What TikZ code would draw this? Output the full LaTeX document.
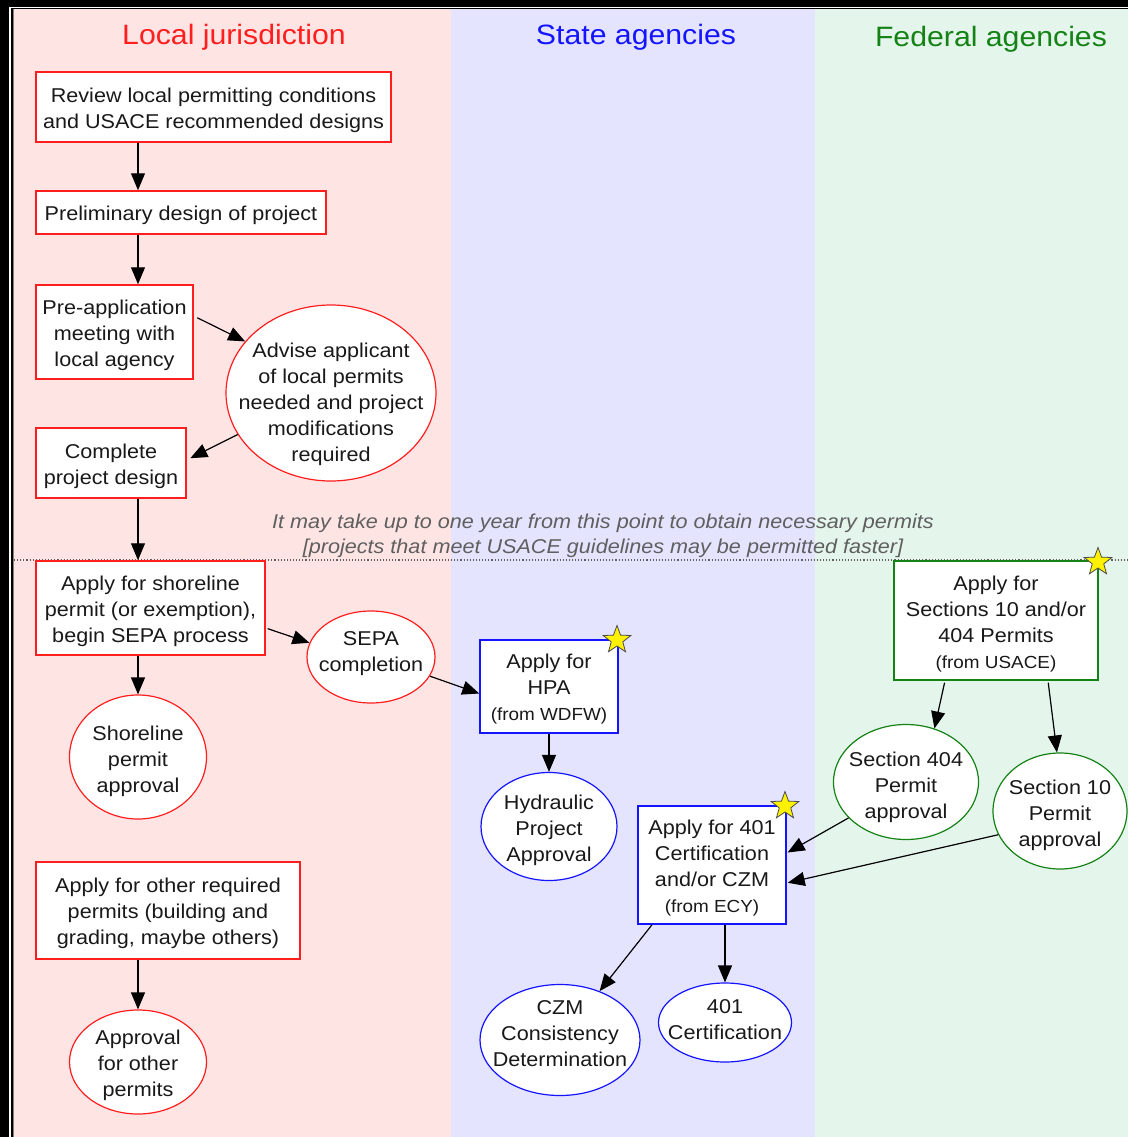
\documentclass[tikz,border=0pt]{standalone}
\usepackage{fontspec}
\setmainfont[FakeStretch=1.08]{Liberation Sans}
\usetikzlibrary{arrows.meta,shapes.geometric,calc}
\definecolor{pinkbg}{RGB}{255,228,228}
\definecolor{bluebg}{RGB}{228,228,255}
\definecolor{greenbg}{RGB}{228,245,236}
\definecolor{locred}{RGB}{255,30,30}
\definecolor{stblue}{RGB}{20,20,255}
\definecolor{fedgreen}{RGB}{20,130,20}
\definecolor{notegray}{RGB}{95,95,95}
\definecolor{txt}{RGB}{25,25,25}
\newcommand\nfont{\fontsize{20}{26}\selectfont}
\newcommand\sfont{\fontsize{17.5}{20}\selectfont}
\begin{document}
\begin{tikzpicture}[x=1pt,y=-1pt,
  box/.style={draw,line width=1.5pt,fill=white,inner sep=0pt,rectangle},
  oval/.style={draw,line width=1.2pt,fill=white,inner sep=0pt,ellipse},
  otext/.style={inner sep=0pt,align=center,font=\nfont,text=txt},
  title/.style={inner sep=0pt,font=\fontsize{28}{32}\selectfont},
  arr/.style={draw=black,line width=1.2pt,-{Triangle[length=17pt,width=14pt]}},
  starmark/.style={star,star points=5,star point ratio=2.4,fill=yellow,draw=black!70,line width=0.8pt,minimum size=29pt,inner sep=0pt}
]
\useasboundingbox (0,0) rectangle (1128,1137);
% background frame
\fill[black] (0,0) rectangle (1128,1137);
\draw[white,line width=1.8pt] (10,1137) -- (10,7.5) -- (1128,7.5);
\fill[pinkbg] (14,9) rectangle (451,1137);
\fill[bluebg] (451,9) rectangle (815,1137);
\fill[greenbg] (815,9) rectangle (1128,1137);
\draw[gray,line width=1.2pt] (13.6,9) -- (13.6,1137);
% titles
\node[title,text=locred] (t1) at (234,37) {Local jurisdiction};
\node[title,text=stblue] (t2) at (636,37) {State agencies};
\node[title,text=fedgreen] (t3) at (991,39) {Federal agencies};
% dotted divider and note
\draw[notegray,dotted,line width=1.1pt] (14,560) -- (1128,560);
\node[inner sep=0pt,align=center,font=\fontsize{20}{25}\selectfont\itshape,text=notegray] (note) at (603,536)
  {It may take up to one year from this point to obtain necessary permits\\{[projects that meet USACE guidelines may be permitted faster]}};
\coordinate (colx) at (138,0);
% local nodes
\node[box,draw=locred,minimum width=355pt,minimum height=70pt] (review) at (213.5,107) {};
\node[otext] (reviewT) at ([yshift=-3pt]review.center) {Review local permitting conditions\\and USACE recommended designs};
\node[box,draw=locred,minimum width=290pt,minimum height=43pt] (prelim) at (181,212.5) {};
\node[otext] (prelimT) at ([yshift=-3pt]prelim.center) {Preliminary design of project};
\node[box,draw=locred,minimum width=157pt,minimum height=94pt] (preapp) at (114.5,332) {};
\node[otext] (preappT) at ([yshift=-3pt]preapp.center) {Pre-application\\meeting with\\local agency};
\node[oval,draw=locred,minimum width=210pt,minimum height=176pt] (adv) at (331,393) {};
\node[otext] (advT) at (331,404.5) {Advise applicant\\of local permits\\needed and project\\modifications\\required};
\node[box,draw=locred,minimum width=150pt,minimum height=70pt] (complete) at (111,463) {};
\node[otext] (completeT) at ([yshift=-3pt]complete.center) {Complete\\project design};
\node[box,draw=locred,minimum width=229pt,minimum height=94pt] (shore) at (150.5,608) {};
\node[otext] (shoreT) at ([yshift=-3pt]shore.center) {Apply for shoreline\\permit (or exemption),\\begin SEPA process};
\node[oval,draw=locred,minimum width=128pt,minimum height=92pt] (sepa) at (371,657) {};
\node[otext] (sepaT) at (371,653.5) {SEPA\\completion};
\node[oval,draw=locred,minimum width=137pt,minimum height=124pt] (shapp) at (138,757) {};
\node[otext] (shappT) at (138,761.5) {Shoreline\\permit\\approval};
\node[box,draw=locred,minimum width=264pt,minimum height=97pt] (other) at (168,910.5) {};
\node[otext] (otherT) at ([yshift=-3pt]other.center) {Apply for other required\\permits (building and\\grading, maybe others)};
\node[oval,draw=locred,minimum width=137pt,minimum height=104pt] (othapp) at (138,1062) {};
\node[otext] (othappT) at (138,1065.5) {Approval\\for other\\permits};
% state nodes
\node[box,draw=stblue,minimum width=138pt,minimum height=93pt] (hpa) at (549,686.5) {};
\node[otext] (hpaT) at ([yshift=-3pt]hpa.center) {Apply for\\HPA\\{\sfont (from WDFW)}};
\node[oval,draw=stblue,minimum width=136pt,minimum height=108pt] (hyd) at (549,826.5) {};
\node[otext] (hydT) at (549,830.5) {Hydraulic\\Project\\Approval};
\node[box,draw=stblue,minimum width=148pt,minimum height=118pt] (a401) at (712,865) {};
\node[otext] (a401T) at ([yshift=-3pt]a401.center) {Apply for 401\\Certification\\and/or CZM\\{\sfont (from ECY)}};
\node[oval,draw=stblue,minimum width=160pt,minimum height=111pt] (czm) at (560,1040) {};
\node[otext] (czmT) at (560,1033.5) {CZM\\Consistency\\Determination};
\node[oval,draw=stblue,minimum width=133pt,minimum height=79pt] (cert) at (725,1022.5) {};
\node[otext] (certT) at (725,1019.5) {401\\Certification};
% federal nodes
\node[box,draw=fedgreen,minimum width=204pt,minimum height=119pt] (sec) at (996,620.5) {};
\node[otext] (secT) at ([yshift=-3.5pt]sec.center) {Apply for\\Sections 10 and/or\\404 Permits\\{\sfont (from USACE)}};
\node[oval,draw=fedgreen,minimum width=145pt,minimum height=115pt] (s404) at (906,782) {};
\node[otext] (s404T) at (906,787.5) {Section 404\\Permit\\approval};
\node[oval,draw=fedgreen,minimum width=134pt,minimum height=116pt] (s10) at (1060,811) {};
\node[otext] (s10T) at (1060,815.5) {Section 10\\Permit\\approval};
% stars
\node[starmark] (st1) at (617,640) {};
\node[starmark] (st2) at (785,806) {};
\node[starmark] (st3) at (1098,562) {};
% connectors
\draw[arr] (review.south -| colx) -- (prelim.north -| colx);
\draw[arr] (prelim.south -| colx) -- (preapp.north -| colx);
\draw[arr,shorten <=4pt] ([yshift=16pt]preapp.east) -- (adv.149);
\draw[arr,shorten >=4pt] (adv.204) -- ([yshift=3pt]complete.east);
\draw[arr] (complete.south -| colx) -- (shore.north -| colx);
\draw[arr,shorten <=2pt] ([yshift=-20pt]shore.east) -- (sepa.167);
\draw[arr] (shore.south -| colx) -- (shapp.north);
\draw[arr] (sepa.-18) -- ([yshift=-7pt]hpa.west);
\draw[arr] (hpa.south) -- (hyd.north);
\draw[arr] (other.south -| colx) -- (othapp.north);
\draw[arr,shorten <=2pt] ([xshift=-51pt]sec.south) -- (s404.62);
\draw[arr,shorten <=2pt] ([xshift=52pt]sec.south) -- (s10.93);
\draw[arr,shorten >=1pt] (s404.212) -- ([yshift=12pt]a401.east);
\draw[arr,shorten >=1pt] (s10.201) -- ([yshift=-18pt]a401.east);
\draw[arr] ([xshift=-60pt]a401.south) -- (czm.51);
\draw[arr] ([xshift=13pt]a401.south) -- (cert.north);
\end{tikzpicture}
\end{document}
